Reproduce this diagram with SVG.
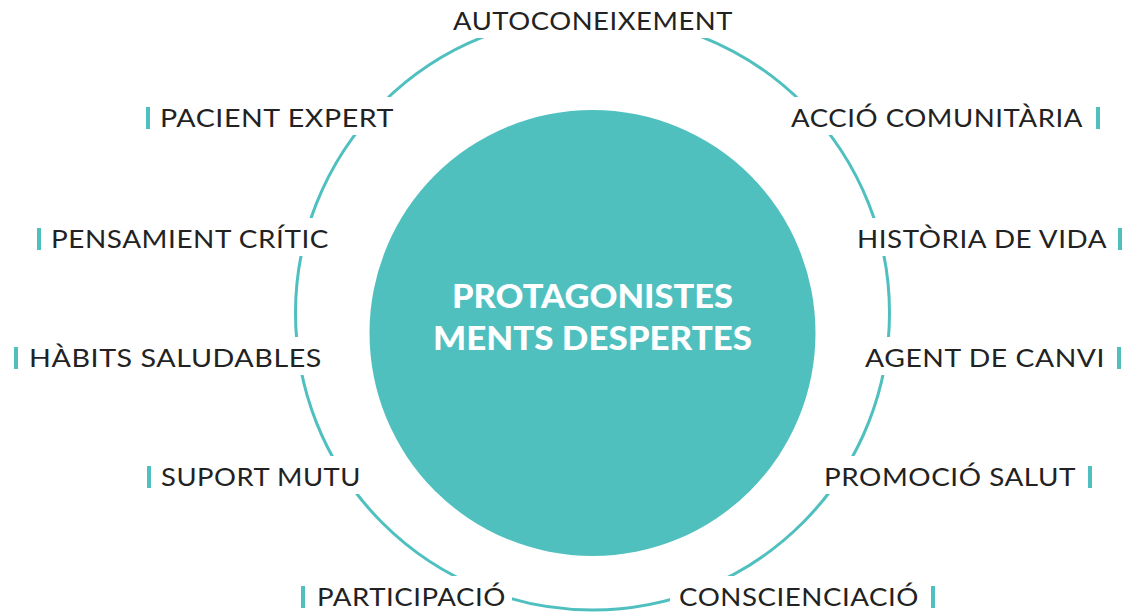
<svg xmlns="http://www.w3.org/2000/svg" width="1126" height="614" viewBox="0 0 1126 614">
<style>
.lbl{font-family:Lato,"Liberation Sans",sans-serif;font-size:25px;fill:#222222;letter-spacing:0.5px}
.ctr{font-family:Lato,"Liberation Sans",sans-serif;font-size:33px;font-weight:900;fill:#ffffff}
.bg{fill:#ffffff}
.bar{fill:#4fc0bf}
</style>
<rect width="1126" height="614" fill="#ffffff"/>
<g id="connectors">
<circle cx="592.5" cy="313" r="297" fill="none" stroke="#4fc0bf" stroke-width="3"/>
</g>
<g id="center">
<circle cx="592.5" cy="333" r="223" fill="#50c0bf"/>
<text class="ctr" x="452" y="308" textLength="281" lengthAdjust="spacingAndGlyphs">PROTAGONISTES</text>
<text class="ctr" x="433" y="350" textLength="319" lengthAdjust="spacingAndGlyphs">MENTS DESPERTES</text>
</g>
<g id="n-autoconeixement">
<rect class="bg" x="443" y="0" width="300" height="38"/>
<text class="lbl" x="453" y="30" textLength="280" lengthAdjust="spacingAndGlyphs">AUTOCONEIXEMENT</text>
</g>
<g id="n-pacient-expert">
<rect class="bg" x="136" y="97" width="266" height="38"/>
<rect class="bar" x="146" y="107" width="4" height="22"/>
<text class="lbl" x="160" y="127" textLength="234" lengthAdjust="spacingAndGlyphs">PACIENT EXPERT</text>
</g>
<g id="n-accio-comunitaria">
<rect class="bg" x="783" y="97" width="327" height="38"/>
<text class="lbl" x="791" y="127" textLength="292" lengthAdjust="spacingAndGlyphs">ACCIÓ COMUNITÀRIA</text>
<rect class="bar" x="1096" y="107" width="4" height="22"/>
</g>
<g id="n-pensamient-critic">
<rect class="bg" x="27" y="218" width="310" height="38"/>
<rect class="bar" x="37" y="228" width="4" height="22"/>
<text class="lbl" x="51" y="248" textLength="278" lengthAdjust="spacingAndGlyphs">PENSAMIENT CRÍTIC</text>
</g>
<g id="n-historia-de-vida">
<rect class="bg" x="849" y="218" width="277" height="38"/>
<text class="lbl" x="857" y="248" textLength="250" lengthAdjust="spacingAndGlyphs">HISTÒRIA DE VIDA</text>
<rect class="bar" x="1118" y="228" width="4" height="22"/>
</g>
<g id="n-habits-saludables">
<rect class="bg" x="4" y="337" width="326" height="38"/>
<rect class="bar" x="14" y="347" width="4" height="22"/>
<text class="lbl" x="29" y="367" textLength="293" lengthAdjust="spacingAndGlyphs">HÀBITS SALUDABLES</text>
</g>
<g id="n-agent-de-canvi">
<rect class="bg" x="857" y="337" width="269" height="38"/>
<text class="lbl" x="865" y="367" textLength="240" lengthAdjust="spacingAndGlyphs">AGENT DE CANVI</text>
<rect class="bar" x="1117" y="347" width="4" height="22"/>
</g>
<g id="n-suport-mutu">
<rect class="bg" x="137" y="456" width="232" height="38"/>
<rect class="bar" x="147" y="466" width="4" height="22"/>
<text class="lbl" x="161" y="486" textLength="200" lengthAdjust="spacingAndGlyphs">SUPORT MUTU</text>
</g>
<g id="n-promocio-salut">
<rect class="bg" x="816" y="456" width="286" height="38"/>
<text class="lbl" x="824" y="486" textLength="252" lengthAdjust="spacingAndGlyphs">PROMOCIÓ SALUT</text>
<rect class="bar" x="1088" y="466" width="4" height="22"/>
</g>
<g id="n-participacio">
<rect class="bg" x="291" y="576" width="221" height="38"/>
<rect class="bar" x="301" y="586" width="4" height="22"/>
<text class="lbl" x="317" y="606" textLength="189" lengthAdjust="spacingAndGlyphs">PARTICIPACIÓ</text>
</g>
<g id="n-conscienciacio">
<rect class="bg" x="670" y="576" width="275" height="38"/>
<text class="lbl" x="679" y="606" textLength="240" lengthAdjust="spacingAndGlyphs">CONSCIENCIACIÓ</text>
<rect class="bar" x="931" y="586" width="4" height="22"/>
</g>
</svg>
